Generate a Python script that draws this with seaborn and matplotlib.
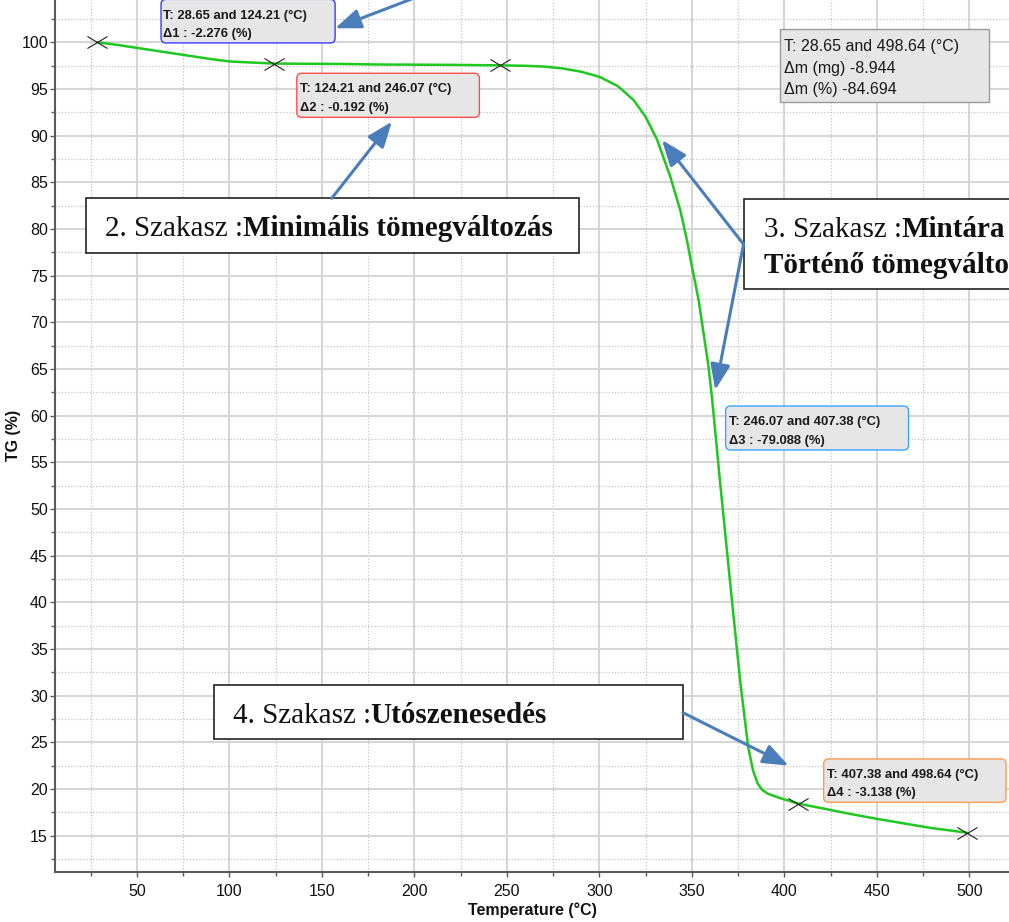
import matplotlib
matplotlib.use("Agg")
import numpy as np
import matplotlib.pyplot as plt
from matplotlib.patches import FancyBboxPatch
from matplotlib.path import Path
from matplotlib.ticker import MultipleLocator
from matplotlib import font_manager
import seaborn as sns

# TG curve: temperature (°C) and residual mass (%)
temperature = [28.65, 40, 50, 60, 75, 90, 100, 110, 124.21,
               140, 160, 180, 200, 220, 246.07,
               260, 270, 280, 290, 300, 310, 318.4, 324.7, 331.1, 338.3, 343.7, 347.3,
               350.0, 353.6, 356.3, 359.0, 360.8, 365.1,
               370.5, 376, 380.4, 383, 385.5, 388, 391, 398, 407.38,
               420, 435, 450, 465, 480, 490, 498.64]
tg_percent = [100.0, 99.7, 99.4, 99.1, 98.65, 98.2, 97.95, 97.85, 97.72,
              97.7, 97.68, 97.62, 97.6, 97.58, 97.53,
              97.48, 97.4, 97.2, 96.85, 96.3, 95.3, 93.82, 92.1, 89.6, 85.6, 82.0, 78.8,
              75.96, 72.4, 68.8, 65.2, 62.0, 53.1,
              42.4, 31.7, 24.5, 22.0, 20.6, 19.9, 19.5, 19.0, 18.44,
              17.95, 17.35, 16.8, 16.3, 15.8, 15.55, 15.31]

# Evaluation steps: boundary temperatures and mass change of each step (%)
step_temps = [28.65, 124.21, 246.07, 407.38, 498.64]
step_deltas = [-2.276, -0.192, -79.088, -3.138]
mass_loss_mg = -8.944

stage_plain = ["2. Szakasz :", "3. Szakasz :", "4. Szakasz :"]
stage_bold = ["Minimális tömegváltozás", "Mintára", "Utószenesedés"]
stage3_second_line = "Történő tömegváltozás"

step_marks = 100.0 + np.concatenate([[0.0], np.cumsum(step_deltas)])
total_delta = float(np.sum(step_deltas))

sns.set_theme(style="white")
plt.rcParams["font.family"] = ["Liberation Sans", "DejaVu Sans"]


def has_font(name):
    try:
        font_manager.findfont(font_manager.FontProperties(family=name),
                              fallback_to_default=False)
        return True
    except Exception:
        return False


if has_font("Liberation Sans Narrow"):
    note_family, note_size = "Liberation Sans Narrow", 11
else:
    note_family, note_size = "Liberation Sans", 9.4
serif = ["Liberation Serif", "DejaVu Serif"]

fig = plt.figure(figsize=(10.09, 9.22), dpi=100)
ax = fig.add_axes([55 / 1009, 50.3 / 922, 954 / 1009, 871.7 / 922])

sns.lineplot(x=temperature, y=tg_percent, ax=ax, color="#1ec81e", lw=1.8,
             sort=False, estimator=None, zorder=3)

cross = Path([(-1, -0.6), (1, 0.6), (-1, 0.6), (1, -0.6)],
             [Path.MOVETO, Path.LINETO, Path.MOVETO, Path.LINETO])
ax.plot(step_temps, step_marks, ls="none", marker=cross, ms=14.5,
        mfc="none", mec="#222222", mew=0.8, zorder=4)

ax.set_xlim(5.68, 521.4)
ax.set_ylim(11.14, 104.53)
ax.xaxis.set_major_locator(MultipleLocator(50))
ax.xaxis.set_minor_locator(MultipleLocator(25))
ax.yaxis.set_major_locator(MultipleLocator(5))
ax.yaxis.set_minor_locator(MultipleLocator(2.5))
ax.grid(which="major", color="#d6d6d6", lw=1.5, ls="-")
ax.grid(which="minor", color="#c4c4c4", lw=0.9, ls=(0, (1, 1.5)))
ax.set_axisbelow(True)

for side in ("top", "right"):
    ax.spines[side].set_visible(False)
for side in ("left", "bottom"):
    ax.spines[side].set_color("#5a5a5a")
    ax.spines[side].set_linewidth(1.5)

ax.tick_params(which="both", bottom=True, left=True, direction="out",
               color="#5a5a5a", width=1)
ax.tick_params(which="major", length=3.6, labelsize=11.5, labelcolor="#111111")
ax.tick_params(which="minor", length=2.6)
ax.tick_params(axis="x", which="major", pad=5.5)
ax.tick_params(axis="y", which="major", pad=1.5)

ax.set_xlabel("Temperature (°C)", fontsize=11.5, fontweight="bold", color="#111111")
ax.xaxis.set_label_coords(0.5, -0.0348)
ax.set_ylabel("TG (%)", fontsize=11.5, fontweight="bold", color="#111111")
ax.yaxis.set_label_coords(-0.036, 0.5)

# pixel ratio between y and x data units, used to keep box corners round
aspect = ((104.53 - 11.14) / 871.7) / ((521.4 - 5.68) / 954)


def note_box(x0, x1, y0, y1, edge, rounded=True, face="#e6e6e6", lw=1.0):
    style = "round,pad=0,rounding_size=2.7" if rounded else "square,pad=0"
    patch = FancyBboxPatch((x0, y0), x1 - x0, y1 - y0, boxstyle=style,
                           mutation_aspect=aspect, fc=face, ec=edge, lw=lw,
                           zorder=5, clip_on=False)
    ax.add_patch(patch)


def note_text(x, y, s, bold=True, size=None, family=None):
    ax.text(x, y, s, ha="left", va="baseline", zorder=6, color="#1a1a1a",
            fontsize=size or note_size, family=family or note_family,
            fontweight="bold" if bold else "normal", clip_on=False)


def step_label(i):
    return (f"T: {step_temps[i]:.2f} and {step_temps[i + 1]:.2f} (°C)",
            f"Δ{i + 1} : {step_deltas[i]:.3f} (%)")


def stage_text(x, y, plain, bold):
    t1 = ax.text(x, y, plain, family=serif, fontsize=21, ha="left",
                 va="baseline", color="#111111", zorder=6)
    ax.annotate(bold, xy=(1, 0), xycoords=t1, family=serif, fontsize=21,
                fontweight="bold", ha="left", va="bottom", color="#111111",
                zorder=6, annotation_clip=False)


def arrow(start, tip):
    ax.annotate("", xy=tip, xytext=start, zorder=7, annotation_clip=False,
                arrowprops=dict(arrowstyle="-|>,head_length=1.3,head_width=0.5",
                                color="#4a7ebb", lw=2.2, shrinkA=0, shrinkB=0))


# step result boxes
boxes = [
    ((63.0, 157.1, 99.93, 104.6), "#3a3aff", 64.2, (102.46, 100.54)),
    ((136.4, 235.1, 91.96, 96.68), "#ff4d4d", 138.1, (94.68, 92.67)),
    ((368.2, 467.1, 56.32, 61.03), "#38a4ff", 370.2, (59.0, 56.93)),
    ((421.2, 519.8, 18.58, 23.22), "#ff9a50", 423.0, (21.21, 19.25)),
]
for i, (rect, edge, tx, (y1, y2)) in enumerate(boxes):
    note_box(*rect, edge=edge)
    line1, line2 = step_label(i)
    note_text(tx, y1, line1)
    note_text(tx, y2, line2)

# overall mass change box
note_box(397.7, 510.6, 93.64, 101.39, edge="#9a9a9a", rounded=False)
note_text(399.9, 99.1, f"T: {step_temps[0]:.2f} and {step_temps[-1]:.2f} (°C)",
          bold=False, size=11.5, family="Liberation Sans")
note_text(399.9, 96.74, f"Δm (mg) {mass_loss_mg:.3f}",
          bold=False, size=11.5, family="Liberation Sans")
note_text(399.9, 94.46, f"Δm (%) {total_delta:.3f}",
          bold=False, size=11.5, family="Liberation Sans")

# stage description boxes
note_box(22.4, 288.7, 77.39, 83.29, edge="#222222", rounded=False, face="white", lw=1.2)
stage_text(32.7, 79.25, stage_plain[0], stage_bold[0])

note_box(378.3, 560.0, 73.57, 83.18, edge="#222222", rounded=False, face="white", lw=1.2)
stage_text(388.7, 79.11, stage_plain[1], stage_bold[1])
ax.text(388.7, 75.25, stage3_second_line, family=serif, fontsize=21,
        fontweight="bold", ha="left", va="baseline", color="#111111", zorder=6)

note_box(91.48, 344.9, 25.33, 31.14, edge="#222222", rounded=False, face="white", lw=1.2)
stage_text(101.7, 27.04, stage_plain[2], stage_bold[2])

# pointer arrows
arrow((208.4, 105.39), (157.1, 101.5))
arrow((155.3, 83.29), (187.8, 91.5))
arrow((377.9, 78.36), (333.8, 89.53))
arrow((377.9, 78.36), (362.6, 62.75))
arrow((345.1, 28.18), (402.3, 22.50))

fig.savefig("out.png", dpi=100)
